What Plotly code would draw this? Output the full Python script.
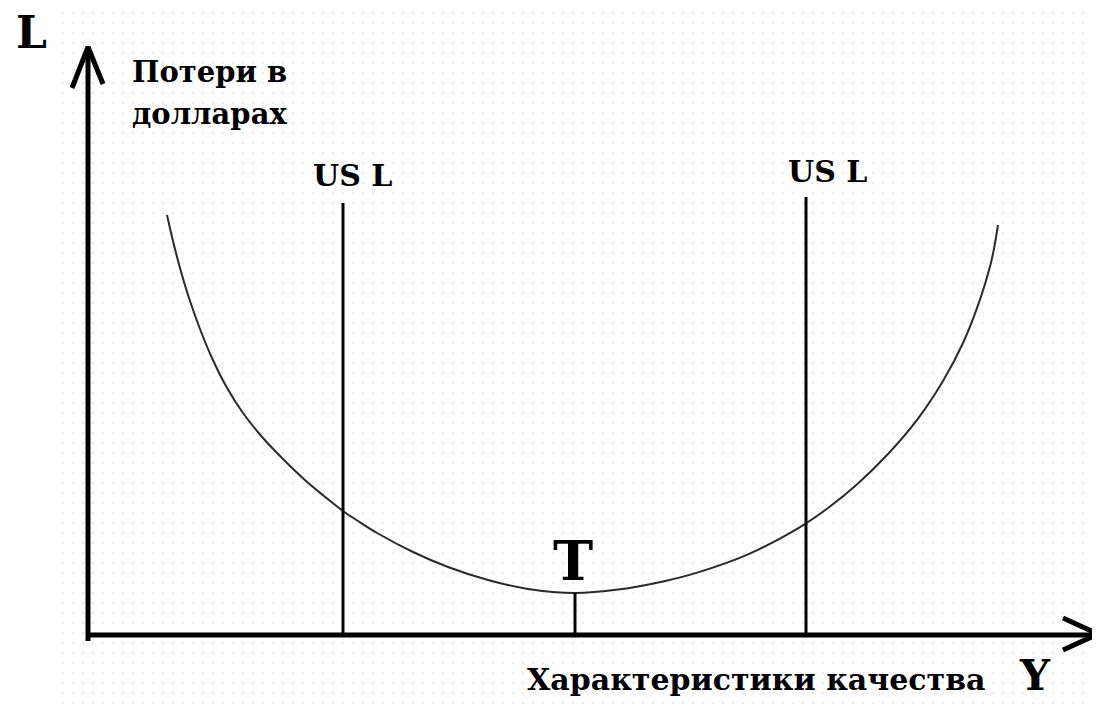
import plotly.graph_objects as go

# ---- data (quality characteristic Y vs. loss L, arbitrary units) ----
quality = [79, 85, 92, 101, 112, 124, 138, 155, 175, 195, 218, 236, 255, 270, 290, 325, 360, 400, 440,
           487, 530, 575, 610, 660, 710, 740, 770, 800, 830, 855, 875, 892, 902, 906, 910]
loss = [421, 395, 368, 338, 307, 278, 250, 223, 198, 177, 155, 140, 125, 115, 102.5, 84, 69, 56, 47,
        43, 46.4, 54.5, 63.6, 81.6, 107.6, 128, 152.6, 182, 217.4, 255, 293, 336.4, 369.4, 387.4, 411]

spec_limits_x = [255, 718]
spec_limits_top = [433, 439]
spec_labels = ["US L", "US L"]
target_x = 487
target_loss = 43

X_MAX = 1010   # end of horizontal axis arrow
Y_MAX = 589    # end of vertical axis arrow

# page body has an 8px margin: figure is 1092x696 placed at (8,8)
XR = [-80, 1012]
YR = [-68, 628]

FONT = "DejaVu Serif"
INK = "#000000"

fig = go.Figure()

# dotted paper background
fig.add_trace(go.Scatter(
    x=[-30, XR[1], XR[1], -30, -30], y=[YR[0], YR[0], YR[1], YR[1], YR[0]],
    mode="lines", fill="toself", line=dict(width=0, color="rgba(0,0,0,0)"),
    fillcolor="white",
    fillpattern=dict(shape=".", fgcolor="#cfcfcf", bgcolor="white", size=10, solidity=0.035),
    hoverinfo="skip", showlegend=False))

# loss curve
fig.add_trace(go.Scatter(x=quality, y=loss, mode="lines",
                         line=dict(color="#2a2a2a", width=2, shape="spline", smoothing=1.0),
                         hoverinfo="skip", showlegend=False))

# spec limit lines
for sx, st in zip(spec_limits_x, spec_limits_top):
    fig.add_trace(go.Scatter(x=[sx, sx], y=[0, st], mode="lines", line=dict(color=INK, width=3),
                             hoverinfo="skip", showlegend=False))

# target line
fig.add_trace(go.Scatter(x=[target_x, target_x], y=[0, target_loss], mode="lines", line=dict(color=INK, width=3),
                         hoverinfo="skip", showlegend=False))

# axes
fig.add_trace(go.Scatter(x=[0, 0], y=[-5, Y_MAX - 2], mode="lines", line=dict(color=INK, width=5),
                         hoverinfo="skip", showlegend=False))
fig.add_trace(go.Scatter(x=[0, X_MAX - 2], y=[1, 1], mode="lines", line=dict(color=INK, width=5),
                         hoverinfo="skip", showlegend=False))

# arrow heads
HL_V, HW_V = 41, 15
fig.add_trace(go.Scatter(x=[-HW_V - 1, 0, HW_V], y=[Y_MAX - HL_V, Y_MAX, Y_MAX - HL_V + 4], mode="lines",
                         line=dict(color=INK, width=5), hoverinfo="skip", showlegend=False))
HL_H, HW_H = 35, 14
fig.add_trace(go.Scatter(x=[X_MAX - HL_H, X_MAX, X_MAX - HL_H], y=[2 + HW_H + 2, 2, 2 - HW_H - 2], mode="lines",
                         line=dict(color=INK, width=5), hoverinfo="skip", showlegend=False))

def label(text, x, y, size, xanchor="center", yanchor="middle"):
    fig.add_annotation(x=x, y=y, text=text, showarrow=False, xanchor=xanchor, yanchor=yanchor,
                       font=dict(family=FONT, size=size, color=INK, weight="bold"))

label("L", -57, 604, 44)
label("Потери в", 42, 564, 29, xanchor="left")
label("долларах", 42, 522, 29, xanchor="left")
spec_label_dx = [9, 21]
spec_label_dy = [28, 26]
for sx, st, t, dx, dy in zip(spec_limits_x, spec_limits_top, spec_labels, spec_label_dx, spec_label_dy):
    label(t, sx + dx, st + dy, 30)
label("T", target_x - 2, 75, 54)
label("Характеристики качества", 668, -43, 30)
label("Y", 947, -66, 42, yanchor="bottom")

fig.update_layout(
    width=1092, height=696, margin=dict(l=0, r=0, t=0, b=0),
    paper_bgcolor="white", plot_bgcolor="white",
    xaxis=dict(range=XR, visible=False, fixedrange=True),
    yaxis=dict(range=YR, visible=False, fixedrange=True),
    showlegend=False,
)

fig.write_html("out.html")
